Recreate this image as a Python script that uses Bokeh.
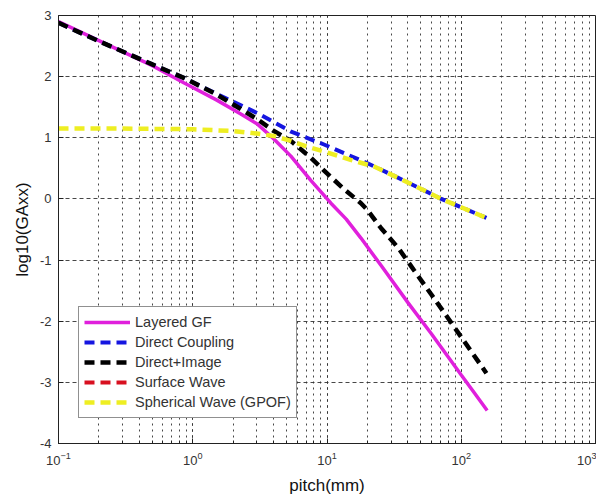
from bokeh.plotting import figure
from bokeh.models import Range1d, FixedTicker
from bokeh.embed import file_html
from bokeh.resources import INLINE

# ---- data ----
layered_x = [0.1, 0.2, 0.5, 0.857, 1.5, 2.28, 3.05, 4.02, 5.38, 7.6, 10.7, 13.9, 17.9, 25.3, 40.2, 59.7, 100, 125, 156]
layered_y = [2.90, 2.59, 2.18, 1.90, 1.62, 1.39, 1.22, 0.98, 0.70, 0.30, -0.07, -0.33, -0.64, -1.09, -1.70, -2.20, -2.88, -3.17, -3.46]

direct_x = [0.1, 0.2, 0.5, 0.857, 1.5, 3.05, 5.4, 9.5, 20.2, 40, 71, 154]
direct_y = [2.88, 2.58, 2.20, 1.98, 1.72, 1.40, 1.10, 0.89, 0.58, 0.27, 0.0, -0.31]

image_x = [0.1, 0.2, 0.5, 0.857, 1.5, 2.28, 3.05, 4.02, 5.38, 7.6, 10.2, 13.4, 17.9, 20, 25.3, 33.9, 44.6, 59.7, 84, 100, 154]
image_y = [2.88, 2.58, 2.20, 1.98, 1.71, 1.47, 1.30, 1.11, 0.95, 0.67, 0.40, 0.16, -0.07, -0.18, -0.48, -0.80, -1.17, -1.56, -2.02, -2.26, -2.85]

# Surface Wave is listed in the legend but no curve is visible in the plot
surface_x = [float("nan")]
surface_y = [float("nan")]

spherical_x = [0.1, 0.3, 1.0, 2.0, 3.0, 4.0, 5.4, 7.0, 10, 15, 22.4, 40, 71, 154]
spherical_y = [1.15, 1.15, 1.14, 1.11, 1.07, 1.03, 0.95, 0.86, 0.76, 0.64, 0.53, 0.27, 0.0, -0.31]

y_ticks = [-4, -3, -2, -1, 0, 1, 2, 3]
y_tick_labels = ["-4", "-3", "-2", "-1", "0", "1", "2", "3"]

FONT = "Liberation Sans"

p = figure(width=596, height=497, x_axis_type="log",
           x_range=Range1d(0.1, 1000), y_range=Range1d(-4, 3),
           output_backend="svg", toolbar_location=None,
           min_border_left=58, min_border_right=1, min_border_top=15, min_border_bottom=54)

p.background_fill_color = "white"
p.outline_line_color = "#222222"
p.outline_line_width = 1

# axes styling
for ax in (p.xaxis[0], p.yaxis[0]):
    ax.axis_line_color = "#222222"
    ax.major_tick_in = 5
    ax.major_tick_out = 0
    ax.minor_tick_in = 3
    ax.minor_tick_out = 0
    ax.major_tick_line_color = "#222222"
    ax.minor_tick_line_color = "#222222"
    ax.major_label_text_font = FONT
    ax.major_label_text_font_size = "13px"
    ax.major_label_text_color = "#333333"
    ax.axis_label_text_font = FONT
    ax.axis_label_text_font_size = "17px"
    ax.axis_label_text_font_style = "normal"
    ax.axis_label_text_color = "#111111"

p.yaxis[0].ticker = FixedTicker(ticks=y_ticks)
p.yaxis[0].major_label_overrides = {t: s for t, s in zip(y_ticks, y_tick_labels)}
p.yaxis[0].minor_tick_line_color = None
p.yaxis[0].major_label_standoff = 7
p.yaxis[0].axis_label_standoff = 5
p.xaxis[0].major_label_standoff = 8
p.xaxis[0].axis_label_standoff = 8
p.xaxis.axis_label = "pitch(mm)"
p.yaxis.axis_label = "log10(GAxx)"

# grids
p.xgrid.grid_line_color = "#333333"
p.xgrid.grid_line_dash = "2 4"
p.xgrid.grid_line_alpha = 0.9
p.xgrid.minor_grid_line_color = "#333333"
p.xgrid.minor_grid_line_dash = "2 4"
p.xgrid.minor_grid_line_alpha = 0.9
p.ygrid.ticker = FixedTicker(ticks=y_ticks)
p.ygrid.grid_line_color = "#333333"
p.ygrid.grid_line_dash = "4 3"
p.ygrid.grid_line_alpha = 0.9

# lines
p.line(layered_x, layered_y, line_color="#e020dc", line_width=3.5, legend_label="Layered GF")
p.line(direct_x, direct_y, line_color="#1515e0", line_width=4, line_dash="10 6", legend_label="Direct Coupling")
p.line(image_x, image_y, line_color="#000000", line_width=4.5, line_dash="10 6", legend_label="Direct+Image")
p.line(surface_x, surface_y, line_color="#d81020", line_width=4, line_dash="10 6", legend_label="Surface Wave")
p.line(spherical_x, spherical_y, line_color="#eeee22", line_width=4.5, line_dash="10 6", legend_label="Spherical Wave (GPOF)")

lg = p.legend[0]
lg.location = (20, 25)
lg.border_line_color = "#222222"
lg.border_line_width = 1
lg.background_fill_color = "white"
lg.background_fill_alpha = 1
lg.label_text_font = FONT
lg.label_text_font_size = "14.5px"
lg.label_text_color = "#333333"
lg.glyph_width = 46
lg.glyph_height = 20
lg.label_height = 20
lg.label_standoff = 5
lg.spacing = 0
lg.padding = 5
lg.margin = 0

open("out.html", "w").write(file_html(p, INLINE))
